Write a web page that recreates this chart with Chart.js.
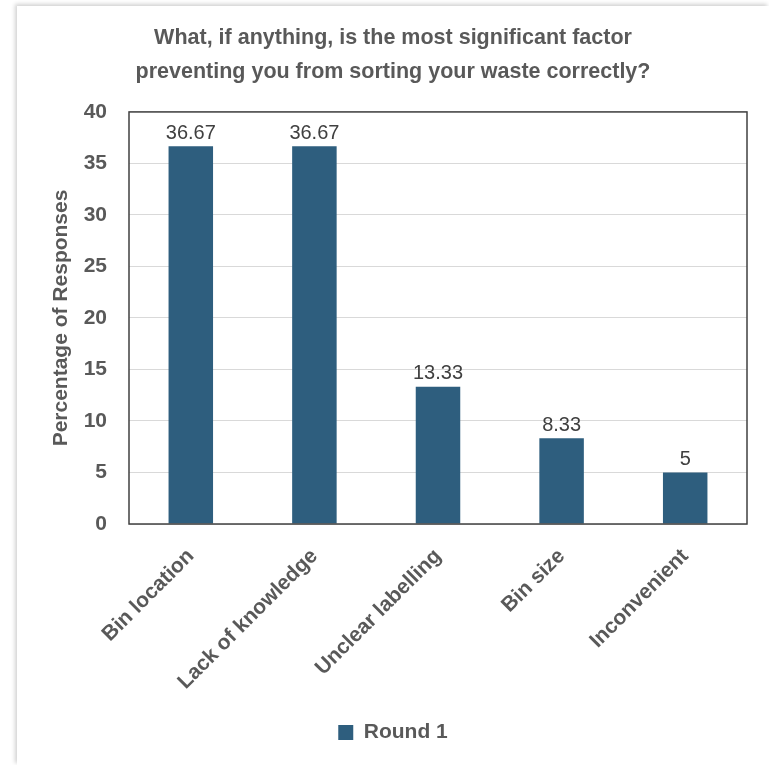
<!DOCTYPE html>
<html>
<head>
<meta charset="utf-8">
<script src="https://cdn.jsdelivr.net/npm/chart.js@4.4.1/dist/chart.umd.min.js"></script>
<style>
  html, body { margin: 0; padding: 0; background: #ffffff; }
  #card {
    position: absolute; left: 17px; top: 6px; width: 752px; height: 759px;
    background: #ffffff;
    box-shadow: -2px -2px 4px rgba(0, 0, 0, 0.18);
  }
</style>
</head>
<body>
<div id="card"><canvas id="wasteChart" width="752" height="759"></canvas></div>
<script>
const categories = ['Bin location', 'Lack of knowledge', 'Unclear labelling', 'Bin size', 'Inconvenient'];
const round1 = [36.67, 36.67, 13.33, 8.33, 5];
const yMin = 0;
const yMax = 40;
const yStep = 5;

const plainFont = "'Liberation Sans', Arial, sans-serif";
const labelGrey = '#595959';

// draws the value above each bar and the box round the plot area
const valueLabels = {
    id: 'valueLabels',
    afterDatasetsDraw(chart) {
        const ctx = chart.ctx;
        const meta = chart.getDatasetMeta(0);
        ctx.save();
        ctx.font = '20px ' + plainFont;
        ctx.fillStyle = '#404040';
        ctx.textAlign = 'center';
        ctx.textBaseline = 'bottom';
        meta.data.forEach((bar, i) => {
            ctx.fillText(String(chart.data.datasets[0].data[i]), bar.x, bar.y - 3);
        });
        const a = chart.chartArea;
        ctx.strokeStyle = '#404040';
        ctx.lineWidth = 1.5;
        ctx.strokeRect(a.left, a.top, a.right - a.left, a.bottom - a.top);
        ctx.restore();
    }
};

const ctx = document.getElementById('wasteChart').getContext('2d');
const wasteChart = new Chart(ctx, {
    type: 'bar',
    data: {
        labels: categories,
        datasets: [{
            label: 'Round 1',
            data: round1,
            backgroundColor: '#2E5E7E',
            borderWidth: 0,
            barPercentage: 0.36,
            categoryPercentage: 1.0
        }]
    },
    options: {
        responsive: false,
        animation: false,
        devicePixelRatio: 1,
        layout: { padding: { left: 0, right: 0, top: 0, bottom: 12 } },
        scales: {
            x: {
                grid: { display: false, drawTicks: false },
                border: { display: false },
                ticks: {
                    color: labelGrey,
                    font: { family: plainFont, size: 21, weight: 'bold' },
                    minRotation: 45,
                    maxRotation: 45,
                    padding: 20
                },
                afterFit(scale) { scale.height = 188; }
            },
            y: {
                min: yMin,
                max: yMax,
                grid: { color: '#d9d9d9', lineWidth: 1, drawTicks: false },
                border: { display: false },
                ticks: {
                    stepSize: yStep,
                    color: labelGrey,
                    font: { family: plainFont, size: 21, weight: 'bold' },
                    padding: 22
                },
                title: {
                    display: true,
                    text: 'Percentage of Responses',
                    color: labelGrey,
                    font: { family: plainFont, size: 21, weight: 'bold' },
                    padding: { top: 32, bottom: 0 }
                },
                afterFit(scale) { scale.width = 112; }
            },
            // empty right-hand axis, only keeps the gap right of the plot
            gap: {
                type: 'linear',
                position: 'right',
                grid: { display: false, drawTicks: false },
                border: { display: false },
                ticks: { display: false },
                afterFit(scale) { scale.width = 22; }
            }
        },
        plugins: {
            title: {
                display: true,
                text: ['What, if anything, is the most significant factor', 'preventing you from sorting your waste correctly?'],
                color: labelGrey,
                font: { family: plainFont, size: 21.5, weight: 'bold', lineHeight: 1.58 },
                padding: { top: 15, bottom: 23 }
            },
            legend: {
                position: 'bottom',
                labels: {
                    color: labelGrey,
                    font: { family: plainFont, size: 21, weight: 'bold' },
                    boxWidth: 15,
                    boxHeight: 15,
                    padding: 10
                }
            },
            tooltip: { enabled: false }
        }
    },
    plugins: [valueLabels]
});
</script>
</body>
</html>
